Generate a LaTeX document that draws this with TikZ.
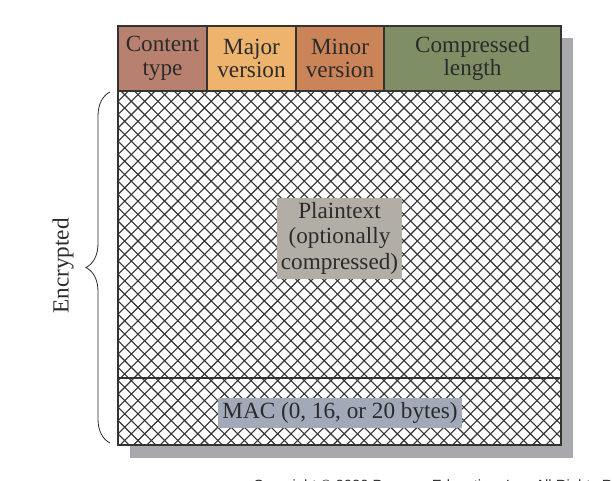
\documentclass[tikz,border=0pt]{standalone}
\usepackage{fontspec}
\setmainfont{Liberation Serif}
\newfontfamily\copyfont{Liberation Sans}
\usetikzlibrary{decorations.pathreplacing}
\definecolor{ctype}{HTML}{B8806F}
\definecolor{cmajor}{HTML}{EEB46E}
\definecolor{cminor}{HTML}{CA8458}
\definecolor{clength}{HTML}{7F8E65}
\definecolor{cplain}{HTML}{B2AEA6}
\definecolor{cmac}{HTML}{A2A9B8}
\definecolor{cshadow}{HTML}{A8A9AD}
\definecolor{ink}{HTML}{2B2B2B}
\definecolor{frame}{HTML}{333333}
\tikzset{
  cell/.style={draw=frame, line width=1.3pt, inner sep=0pt, align=center, text=ink,
    font=\fontsize{23.2}{23.5}\selectfont},
  label/.style={inner sep=0pt, align=center, text=ink, font=\fontsize{23.2}{25.5}\selectfont},
  hatch/.style={draw=frame, line width=1.1pt},
}
\begin{document}
\begin{tikzpicture}[x=1pt,y=-1pt]
\useasboundingbox (0,0) rectangle (612,480);
\begin{scope}
\clip (0,0) rectangle (612,480);
% shadow
\fill[cshadow] (130,38) rectangle (573,458);
% body
\fill[white] (118,91) rectangle (561,445);
\begin{scope}
\clip (118,91) rectangle (561,445);
\foreach \k in {-3,...,62}{
  \pgfmathsetmacro\ca{232.7+13.3*\k}
  \draw[hatch] (\ca,0) -- ++(-600,600);
}
\foreach \k in {-29,...,34}{
  \pgfmathsetmacro\cb{43.3+13.3*\k}
  \draw[hatch] (\cb,0) -- ++(600,600);
}
\end{scope}
\draw[frame, line width=1.3pt] (118,91) rectangle (561,445);
\draw[frame, line width=1.3pt] (118,378) -- (561,378);
% header cells
\node[cell, fill=ctype, minimum width=89pt, minimum height=65pt] (ctype) at (162.5,58.5) {Content\\type};
\node[cell, fill=cmajor, minimum width=89pt, minimum height=65pt] (major) at (251.5,58.5) {Major\\version};
\node[cell, fill=cminor, minimum width=88pt, minimum height=65pt] (minor) at (340,58.5) {Minor\\version};
\node[cell, fill=clength, minimum width=177pt, minimum height=65pt] (length) at (472.5,58.5) {Compressed\\length};
% labels
\node[label, fill=cplain, minimum width=125pt, minimum height=81pt] (plain) at (339.5,238) {Plaintext\\(optionally\\compressed)};
\node[label, fill=cmac, minimum width=244pt, minimum height=30pt] (mac) at (340,413) {MAC (0, 16, or 20 bytes)};
% brace
\coordinate (bbot) at (110,443);
\coordinate (btop) at (110,92);
\draw[ink, line width=0.8pt, decorate, decoration={brace, amplitude=24pt}] (bbot) -- (btop);
\node[label, rotate=90] (enc) at (63,266) {Encrypted};
% copyright
\node[anchor=base west, inner sep=0pt, text=ink, font=\copyfont\fontsize{14.8}{16}\selectfont] (copy) at (253,490.5) {Copyright \textcopyright\ 2020 Pearson Education, Inc. All Rights Reserved.};
\end{scope}
\end{tikzpicture}
\end{document}
